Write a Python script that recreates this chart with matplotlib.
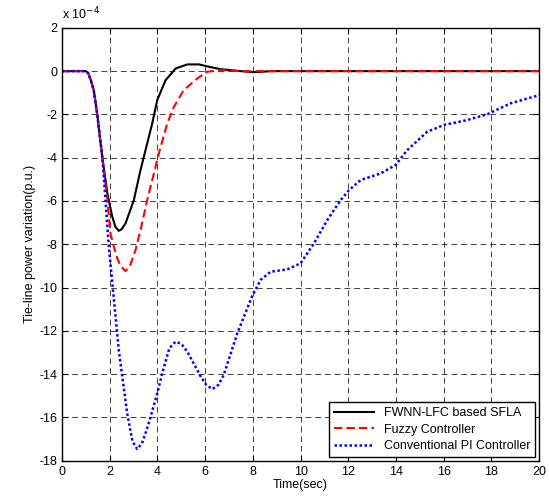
import matplotlib
matplotlib.use('Agg')
import matplotlib.pyplot as plt

# readings in units of 1e-4 p.u.
t_fwnn = [0, 1.0, 1.1, 1.2, 1.33, 1.47, 1.69, 1.9, 2.1, 2.24, 2.38, 2.5, 2.66,
          3.01, 3.29, 3.5, 3.78, 3.99, 4.34, 4.76, 5.25, 5.74, 6.16, 6.65,
          7.48, 8.04, 8.8, 20]
p_fwnn = [0, 0, -0.1, -0.4, -0.88, -1.95, -4.0, -5.65, -6.7, -7.2, -7.38, -7.3,
          -7.04, -5.96, -4.57, -3.65, -2.42, -1.34, -0.42, 0.12, 0.31, 0.31,
          0.2, 0.09, 0, -0.05, 0, 0]

t_fuzzy = [0, 1.0, 1.1, 1.2, 1.33, 1.47, 1.69, 1.9, 2.03, 2.17, 2.3, 2.45, 2.66,
           2.85, 3.08, 3.3, 3.57, 3.85, 4.06, 4.41, 4.69, 5.1, 5.67, 6.09, 6.6,
           7.5, 20]
p_fuzzy = [0, 0, -0.1, -0.4, -0.88, -1.95, -4.0, -5.9, -7.5, -8.1, -8.6, -9.0,
           -9.24, -9.0, -8.27, -7.3, -5.96, -4.73, -3.8, -2.42, -1.65, -0.88,
           -0.34, -0.03, 0.05, 0, 0]

t_pi = [0, 1.0, 1.1, 1.2, 1.33, 1.47, 1.69, 1.96, 2.38, 2.73, 2.95, 3.15, 3.35,
        3.6, 3.99, 4.2, 4.5, 4.76, 5.0, 5.25, 5.81, 6.05, 6.3, 6.55, 6.78,
        7.35, 7.97, 8.32, 8.74, 9.44, 10.0, 10.56, 11.12, 11.68, 12.03, 12.52,
        13.35, 13.98, 14.47, 15.31, 16.0, 16.99, 17.83, 18.8, 20]
p_pi = [0, 0, -0.1, -0.4, -0.88, -1.95, -3.96, -8.1, -12.9, -15.8, -17.1,
        -17.46, -17.2, -16.4, -14.9, -13.96, -12.8, -12.5, -12.6, -12.96,
        -14.1, -14.5, -14.69, -14.5, -14.04, -12.1, -10.4, -9.65, -9.27, -9.16,
        -8.88, -7.96, -6.88, -5.96, -5.5, -5.03, -4.73, -4.34, -3.65, -2.8,
        -2.49, -2.26, -1.99, -1.49, -1.11]

plt.rcParams['font.family'] = ['Liberation Sans', 'DejaVu Sans']
plt.rcParams['font.size'] = 9
plt.rcParams['axes.unicode_minus'] = False

fig = plt.figure(figsize=(5.49, 4.97), dpi=100)
ax = fig.add_axes([0.113, 0.073, 0.869, 0.871])

ax.plot(t_fwnn, p_fwnn, color='black', lw=1.5, ls='-', label='FWNN-LFC based SFLA')
ax.plot(t_fuzzy, p_fuzzy, color='red', lw=1.5, ls=(0, (4, 2)), label='Fuzzy Controller')
ax.plot(t_pi, p_pi, color='blue', lw=1.8, ls=(0, (1, 1)), label='Conventional PI Controller')

ax.set_xlim(0, 20)
ax.set_ylim(-18, 2)
ax.set_xticks(range(0, 21, 2))
ax.set_yticks(range(-18, 3, 2))
ax.grid(True, color='black', ls=(0, (6, 4)), lw=0.7, alpha=0.75)
ax.tick_params(direction='in', top=True, right=True, length=4, labelsize=9)
for s in ax.spines.values():
    s.set_linewidth(1.0)

ax.set_xlabel('Time(sec)', labelpad=1)
ax.set_ylabel('Tie-line power variation(p.u.)', labelpad=2)
ax.text(0.0, 1.012, r'x 10$^{-4}$', transform=ax.transAxes, fontsize=9, va='bottom')

leg = ax.legend(loc='lower right', fancybox=False, edgecolor='black', framealpha=1,
                fontsize=9, handlelength=3.2, borderaxespad=0.3, labelspacing=0.35)
leg.get_frame().set_linewidth(1.0)

fig.savefig('out.png', dpi=100)
